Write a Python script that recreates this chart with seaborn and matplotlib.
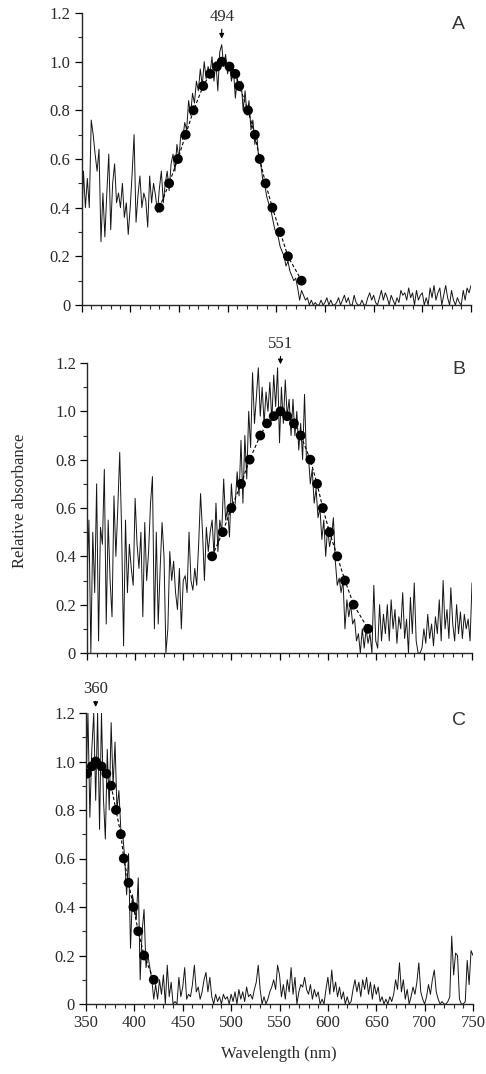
import numpy as np
import pandas as pd
import matplotlib
matplotlib.use("Agg")
import matplotlib.pyplot as plt
from matplotlib.ticker import MultipleLocator, FuncFormatter
import seaborn as sns

# ══════════════════════════════════════════════════════════════════════════════
# DATA (2 nm steps from 350 to 750 nm)
# ══════════════════════════════════════════════════════════════════════════════

TRACE_A = [
    0.30, 0.55, 0.40, 0.52, 0.40, 0.76, 0.70, 0.62, 0.55, 0.64,   # 350-368
    0.26, 0.46, 0.28, 0.46, 0.62, 0.31, 0.50, 0.58, 0.42, 0.46,   # 370-388
    0.40, 0.50, 0.36, 0.42, 0.29, 0.40, 0.54, 0.70, 0.34, 0.45,   # 390-408
    0.53, 0.40, 0.46, 0.43, 0.32, 0.53, 0.42, 0.50, 0.45, 0.38,   # 410-428
    0.48, 0.55, 0.42, 0.50, 0.55, 0.47, 0.58, 0.62, 0.55, 0.66,   # 430-448
    0.60, 0.70, 0.68, 0.75, 0.72, 0.84, 0.78, 0.87, 0.83, 0.92,   # 450-468
    0.88, 0.97, 0.90, 1.00, 0.93, 0.98, 0.95, 1.02, 0.92, 1.00,   # 470-488
    0.88, 1.04, 1.07, 0.98, 1.03, 0.95, 0.99, 0.92, 0.97, 0.85,   # 490-508
    0.93, 0.88, 0.92, 0.80, 0.88, 0.78, 0.84, 0.72, 0.76, 0.66,   # 510-528
    0.70, 0.60, 0.58, 0.52, 0.50, 0.45, 0.42, 0.40, 0.36, 0.32,   # 530-548
    0.29, 0.28, 0.24, 0.22, 0.20, 0.16, 0.18, 0.14, 0.12, 0.10,   # 550-568
    0.11, 0.07, 0.02, 0.06, 0.04, 0.02, 0.03, 0.00, 0.02, 0.00,   # 570-588
    0.01, 0.00, 0.00, 0.02, 0.00, 0.01, 0.03, 0.00, 0.02, 0.00,   # 590-608
    0.00, 0.01, 0.03, 0.00, 0.02, 0.04, 0.01, 0.03, 0.00, 0.00,   # 610-628
    0.04, 0.01, 0.00, 0.00, 0.02, 0.00, 0.00, 0.03, 0.05, 0.02,   # 630-648
    0.04, 0.01, 0.00, 0.03, 0.06, 0.02, 0.05, 0.03, 0.00, 0.04,   # 650-668
    0.02, 0.00, 0.03, 0.01, 0.06, 0.04, 0.05, 0.02, 0.07, 0.03,   # 670-688
    0.05, 0.00, 0.06, 0.02, 0.04, 0.05, 0.00, 0.03, 0.00, 0.07,   # 690-708
    0.03, 0.08, 0.02, 0.05, 0.07, 0.00, 0.04, 0.08, 0.03, 0.00,   # 710-728
    0.06, 0.02, 0.00, 0.03, 0.01, 0.00, 0.06, 0.02, 0.07, 0.05,   # 730-748
    0.08,                                                         # 750
]

TRACE_B = [
    0.30, 0.55, 0.00, 0.50, 0.25, 0.70, 0.05, 0.52, 0.45, 0.76,   # 350-368
    0.12, 0.55, 0.30, 0.15, 0.65, 0.40, 0.60, 0.83, 0.50, 0.03,   # 370-388
    0.55, 0.25, 0.45, 0.35, 0.28, 0.64, 0.45, 0.35, 0.50, 0.15,   # 390-408
    0.54, 0.30, 0.42, 0.62, 0.73, 0.10, 0.50, 0.12, 0.35, 0.54,   # 410-428
    0.40, 0.00, 0.10, 0.42, 0.30, 0.38, 0.25, 0.18, 0.35, 0.10,   # 430-448
    0.30, 0.32, 0.25, 0.50, 0.30, 0.26, 0.35, 0.28, 0.45, 0.66,   # 450-468
    0.50, 0.30, 0.52, 0.42, 0.50, 0.55, 0.40, 0.62, 0.42, 0.55,   # 470-488
    0.50, 0.72, 0.55, 0.60, 0.48, 0.70, 0.58, 0.62, 0.75, 0.65,   # 490-508
    0.88, 0.62, 0.90, 0.72, 1.00, 0.85, 1.16, 0.95, 1.06, 1.18,   # 510-528
    0.98, 1.10, 0.95, 1.08, 1.00, 1.12, 0.96, 1.15, 1.02, 1.18,   # 530-548
    0.87, 1.10, 0.95, 1.13, 0.98, 1.05, 0.90, 1.05, 0.90, 1.00,   # 550-568
    0.84, 0.95, 0.80, 1.07, 0.80, 0.82, 0.70, 0.76, 0.62, 0.68,   # 570-588
    0.56, 0.60, 0.47, 0.55, 0.40, 0.52, 0.44, 0.48, 0.56, 0.38,   # 590-608
    0.28, 0.31, 0.25, 0.30, 0.10, 0.22, 0.15, 0.20, 0.12, 0.14,   # 610-628
    0.05, 0.08, 0.00, 0.10, 0.02, 0.10, 0.04, 0.08, 0.00, 0.28,   # 630-648
    0.05, 0.02, 0.20, 0.05, 0.16, 0.08, 0.20, 0.05, 0.22, 0.10,   # 650-668
    0.18, 0.04, 0.15, 0.10, 0.25, 0.06, 0.14, 0.00, 0.23, 0.08,   # 670-688
    0.29, 0.05, 0.00, 0.00, 0.02, 0.10, 0.04, 0.16, 0.06, 0.12,   # 690-708
    0.03, 0.15, 0.08, 0.22, 0.05, 0.30, 0.10, 0.18, 0.06, 0.27,   # 710-728
    0.12, 0.05, 0.20, 0.08, 0.17, 0.06, 0.16, 0.10, 0.14, 0.05,   # 730-748
    0.29,                                                         # 750
]

TRACE_C = [
    0.90, 1.20, 0.77, 1.05, 1.20, 0.84, 1.20, 0.72, 1.20, 0.85,   # 350-368
    0.68, 1.05, 0.80, 1.16, 0.90, 1.08, 0.80, 0.88, 0.72, 0.70,   # 370-388
    0.60, 0.45, 0.62, 0.23, 0.45, 0.40, 0.35, 0.52, 0.10, 0.30,   # 390-408
    0.39, 0.15, 0.20, 0.15, 0.10, 0.02, 0.08, 0.02, 0.10, 0.04,   # 410-428
    0.12, 0.00, 0.16, 0.03, 0.09, 0.00, 0.01, 0.00, 0.11, 0.03,   # 430-448
    0.07, 0.15, 0.02, 0.04, 0.03, 0.08, 0.16, 0.05, 0.07, 0.02,   # 450-468
    0.05, 0.10, 0.13, 0.05, 0.11, 0.03, 0.00, 0.04, 0.01, 0.03,   # 470-488
    0.00, 0.04, 0.02, 0.03, 0.00, 0.04, 0.01, 0.05, 0.00, 0.06,   # 490-508
    0.02, 0.05, 0.01, 0.07, 0.03, 0.04, 0.02, 0.06, 0.09, 0.16,   # 510-528
    0.06, 0.00, 0.03, 0.00, 0.02, 0.05, 0.07, 0.10, 0.06, 0.16,   # 530-548
    0.12, 0.03, 0.08, 0.02, 0.10, 0.05, 0.15, 0.04, 0.11, 0.00,   # 550-568
    0.05, 0.08, 0.07, 0.11, 0.06, 0.04, 0.08, 0.02, 0.06, 0.03,   # 570-588
    0.05, 0.00, 0.02, 0.00, 0.06, 0.11, 0.04, 0.14, 0.05, 0.09,   # 590-608
    0.03, 0.07, 0.02, 0.05, 0.00, 0.03, 0.00, 0.01, 0.06, 0.10,   # 610-628
    0.05, 0.09, 0.03, 0.10, 0.06, 0.11, 0.04, 0.09, 0.02, 0.08,   # 630-648
    0.04, 0.07, 0.01, 0.03, 0.00, 0.02, 0.00, 0.03, 0.01, 0.04,   # 650-668
    0.10, 0.06, 0.17, 0.05, 0.10, 0.02, 0.06, 0.00, 0.03, 0.07,   # 670-688
    0.04, 0.09, 0.17, 0.05, 0.02, 0.00, 0.03, 0.08, 0.04, 0.10,   # 690-708
    0.14, 0.05, 0.02, 0.00, 0.01, 0.00, 0.00, 0.01, 0.03, 0.28,   # 710-728
    0.12, 0.21, 0.20, 0.02, 0.00, 0.00, 0.01, 0.18, 0.08, 0.22,   # 730-748
    0.20,                                                         # 750
]

# template points (filled dots + dashed curve)
DOTS_A_NM  = [430, 440, 449, 457, 465, 475, 482, 489, 494, 502, 508, 512,
              521, 528, 533, 539, 546, 554, 562, 576]
DOTS_A_ABS = [0.4, 0.5, 0.6, 0.7, 0.8, 0.9, 0.95, 0.98, 1.0, 0.98, 0.95, 0.9,
              0.8, 0.7, 0.6, 0.5, 0.4, 0.3, 0.2, 0.1]

DOTS_B_NM  = [480, 491, 500, 510, 519, 530, 537, 544, 551, 558, 565, 572,
              582, 589, 595, 602, 610, 618, 627, 642]
DOTS_B_ABS = [0.4, 0.5, 0.6, 0.7, 0.8, 0.9, 0.95, 0.98, 1.0, 0.98, 0.95, 0.9,
              0.8, 0.7, 0.6, 0.5, 0.4, 0.3, 0.2, 0.1]

DOTS_C_NM  = [351, 356, 360, 366, 371, 376, 381, 386, 389, 394, 399, 404,
              410, 420]
DOTS_C_ABS = [0.95, 0.98, 1.0, 0.98, 0.95, 0.9, 0.8, 0.7, 0.6, 0.5, 0.4, 0.3,
              0.2, 0.1]

PEAKS        = [494, 551, 360]
PANEL_LABELS = ["A", "B", "C"]

# ══════════════════════════════════════════════════════════════════════════════
# STYLE / LAYOUT
# ══════════════════════════════════════════════════════════════════════════════

sns.set_style("ticks")
plt.rcParams["font.family"] = ["Liberation Serif", "DejaVu Serif"]
plt.rcParams["axes.linewidth"] = 1.0

TEXT_COLOR = "#2a2a2a"
FIG_W, FIG_H = 486, 1074

# axes boxes in pixels: left, top, right, bottom
AX_BOXES = [(81.5, 13, 471, 305), (87, 363, 472, 653), (86, 713, 473, 1004)]
# peak label position / arrow tip (data y)
PEAK_TEXT_Y = [1.185, 1.28, 1.30]
PEAK_TIP_Y  = [1.095, 1.195, 1.225]
LETTER_POS  = [(0.969, 0.962), (0.966, 0.979), (0.964, 0.973)]


def draw_panel(ax, trace, dots_nm, dots_abs, peak, text_y, tip_y, letter, letter_pos, show_x):
    df = pd.DataFrame({"nm": np.linspace(350, 750, len(trace)), "abs": trace})
    sns.lineplot(data=df, x="nm", y="abs", ax=ax, color="#151515", lw=0.7)

    tpl = pd.DataFrame({"nm": dots_nm, "abs": dots_abs})
    sns.lineplot(data=tpl, x="nm", y="abs", ax=ax, color="black", lw=0.8,
                 linestyle=(0, (3, 2)))
    sns.scatterplot(data=tpl, x="nm", y="abs", ax=ax, color="black", s=50,
                    edgecolor="none", zorder=5)

    ax.set_xlim(350, 750)
    ax.set_ylim(0, 1.2)
    ax.xaxis.set_major_locator(MultipleLocator(50))
    ax.xaxis.set_minor_locator(MultipleLocator(10))
    ax.yaxis.set_major_locator(MultipleLocator(0.2))
    ax.yaxis.set_minor_locator(MultipleLocator(0.1))
    ax.yaxis.set_major_formatter(FuncFormatter(lambda v, _: "0" if abs(v) < 1e-9 else f"{v:.1f}"))
    ax.tick_params(which="major", direction="out", length=5, width=0.9,
                   labelsize=12, colors="black", labelcolor=TEXT_COLOR, pad=3)
    ax.tick_params(which="minor", direction="out", length=3, width=0.8)
    if not show_x:
        ax.tick_params(axis="x", labelbottom=False)
    ax.set_xlabel("")
    ax.set_ylabel("")
    sns.despine(ax=ax)

    ax.annotate(str(peak), xy=(peak, tip_y), xytext=(peak, text_y),
                ha="center", va="center", fontsize=12, color=TEXT_COLOR,
                annotation_clip=False,
                arrowprops=dict(arrowstyle="-|>", color="black", lw=0.8,
                                mutation_scale=7, shrinkA=1, shrinkB=0))
    ax.text(letter_pos[0], letter_pos[1], letter, transform=ax.transAxes,
            ha="center", va="center", fontsize=14, color="#333333",
            family=["Liberation Sans", "DejaVu Sans"])


fig = plt.figure(figsize=(FIG_W / 100, FIG_H / 100), dpi=100)

traces = [TRACE_A, TRACE_B, TRACE_C]
dots = [(DOTS_A_NM, DOTS_A_ABS), (DOTS_B_NM, DOTS_B_ABS), (DOTS_C_NM, DOTS_C_ABS)]

for i, (l, t, r, b) in enumerate(AX_BOXES):
    ax = fig.add_axes([l / FIG_W, 1 - b / FIG_H, (r - l) / FIG_W, (b - t) / FIG_H])
    draw_panel(ax, traces[i], dots[i][0], dots[i][1], PEAKS[i],
               PEAK_TEXT_Y[i], PEAK_TIP_Y[i], PANEL_LABELS[i], LETTER_POS[i],
               show_x=(i == 2))

fig.text(20 / FIG_W, 1 - 501 / FIG_H, "Relative absorbance", rotation=90,
         ha="center", va="center", fontsize=12, color=TEXT_COLOR)
fig.text(279 / FIG_W, 1 - 1054 / FIG_H, "Wavelength (nm)",
         ha="center", va="center", fontsize=12, color=TEXT_COLOR)

fig.savefig("out.png", dpi=100)
